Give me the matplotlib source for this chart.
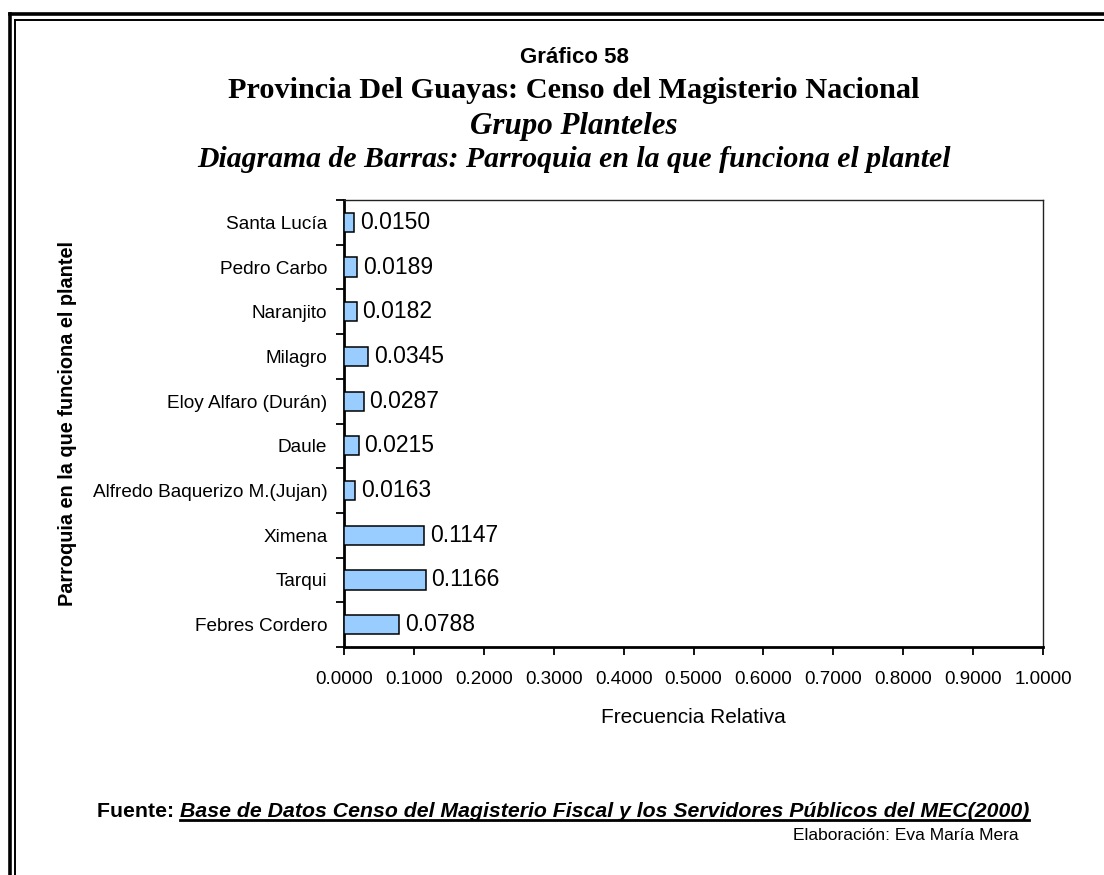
import matplotlib
matplotlib.use("Agg")
import matplotlib.pyplot as plt
from matplotlib.lines import Line2D
import numpy as np

# Parroquias (bottom to top) and their relative frequencies
parroquias = [
    "Febres Cordero",
    "Tarqui",
    "Ximena",
    "Alfredo Baquerizo M.(Jujan)",
    "Daule",
    "Eloy Alfaro (Durán)",
    "Milagro",
    "Naranjito",
    "Pedro Carbo",
    "Santa Lucía",
]
frecuencia = [0.0788, 0.1166, 0.1147, 0.0163, 0.0215, 0.0287, 0.0345, 0.0182, 0.0189, 0.0150]
x_ticks = [0.0, 0.1, 0.2, 0.3, 0.4, 0.5, 0.6, 0.7, 0.8, 0.9, 1.0]

W, H = 1104, 875
fig = plt.figure(figsize=(W / 100, H / 100), dpi=100)
fig.patch.set_facecolor("white")

sans = "Liberation Sans"
serif = "Liberation Serif"

def fx(px):
    return px / W

def fy(py):
    return 1 - py / H

# Double page frame (outer thick, inner thin)
fig.add_artist(Line2D([fx(9.5), fx(9.5)], [fy(14), fy(900)], color="black", lw=2.6, transform=fig.transFigure))
fig.add_artist(Line2D([fx(9.5), fx(1200)], [fy(14), fy(14)], color="black", lw=2.6, transform=fig.transFigure))
fig.add_artist(Line2D([fx(14.5), fx(14.5)], [fy(19.5), fy(900)], color="black", lw=1.4, transform=fig.transFigure))
fig.add_artist(Line2D([fx(14.5), fx(1200)], [fy(19.5), fy(19.5)], color="black", lw=1.4, transform=fig.transFigure))

# Titles
cx = fx(574)
fig.text(cx, fy(63), "Gráfico 58", ha="center", va="baseline", fontsize=16, fontweight="bold", family=sans)
fig.text(cx, fy(98), "Provincia Del Guayas: Censo del Magisterio Nacional", ha="center", va="baseline",
         fontsize=21.8, fontweight="bold", family=serif)
fig.text(cx, fy(134), "Grupo Planteles", ha="center", va="baseline",
         fontsize=22.3, fontweight="bold", fontstyle="italic", family=serif)
fig.text(cx, fy(167), "Diagrama de Barras: Parroquia en la que funciona el plantel", ha="center", va="baseline",
         fontsize=21.4, fontweight="bold", fontstyle="italic", family=serif)

# Plot area
ax = fig.add_axes([fx(344), fy(647), fx(1043) - fx(344), fy(200) - fy(647)])
y = np.arange(len(parroquias))
ax.barh(y, frecuencia, height=0.43, color="#99CCFF", edgecolor="black", linewidth=1.1, zorder=3)

for yi, v in zip(y, frecuencia):
    ax.annotate(f"{v:.4f}", xy=(v, yi), xytext=(4, 0), textcoords="offset points",
                ha="left", va="center", fontsize=16.5, family=sans)

ax.set_xlim(0, 1.0)
ax.set_ylim(-0.5, len(parroquias) - 0.5)
ax.set_xticks(x_ticks)
ax.set_xticklabels([f"{t:.4f}" for t in x_ticks], fontsize=13.5, family=sans)

# category labels between boundary ticks
ax.set_yticks(np.arange(-0.5, len(parroquias), 1.0))
ax.set_yticklabels([])
ax.set_yticks(y, minor=True)
ax.set_yticklabels(parroquias, minor=True, fontsize=13.7, family=sans)
ax.tick_params(axis="y", which="minor", length=0, pad=12)
ax.tick_params(axis="y", which="major", length=6, width=1.3, direction="out")
ax.tick_params(axis="x", length=6, width=1.3, direction="out", pad=11)

for side in ["top", "right"]:
    ax.spines[side].set_linewidth(1.0)
    ax.spines[side].set_color("#222222")
for side in ["left", "bottom"]:
    ax.spines[side].set_linewidth(2.0)
    ax.spines[side].set_color("black")

ax.set_xlabel("Frecuencia Relativa", fontsize=15, family=sans, labelpad=15)
fig.text(fx(68), fy(423), "Parroquia en la que funciona el plantel", rotation=90, ha="center", va="center",
         fontsize=14.3, fontweight="bold", family=sans)

# Source and author notes
fuente_lbl = fig.text(fx(97), fy(817), "Fuente: ", ha="left", va="baseline", fontsize=15.3,
                      fontweight="bold", family=sans)
fig.canvas.draw()
bb = fuente_lbl.get_window_extent()
src = fig.text(bb.x1 / W, fy(817), "Base de Datos Censo del Magisterio Fiscal y los Servidores Públicos del MEC(2000)",
               ha="left", va="baseline", fontsize=15.3, fontweight="bold", fontstyle="italic", family=sans)
fig.canvas.draw()
sb = src.get_window_extent()
fig.add_artist(Line2D([sb.x0 / W, sb.x1 / W], [fy(820), fy(820)], color="black", lw=2.0,
                      transform=fig.transFigure))
fig.text(fx(1019), fy(836), "Elaboración: Eva María Mera", ha="right", va="center", fontsize=12.5, family=sans)

fig.savefig("out.png", dpi=100, facecolor="white")
